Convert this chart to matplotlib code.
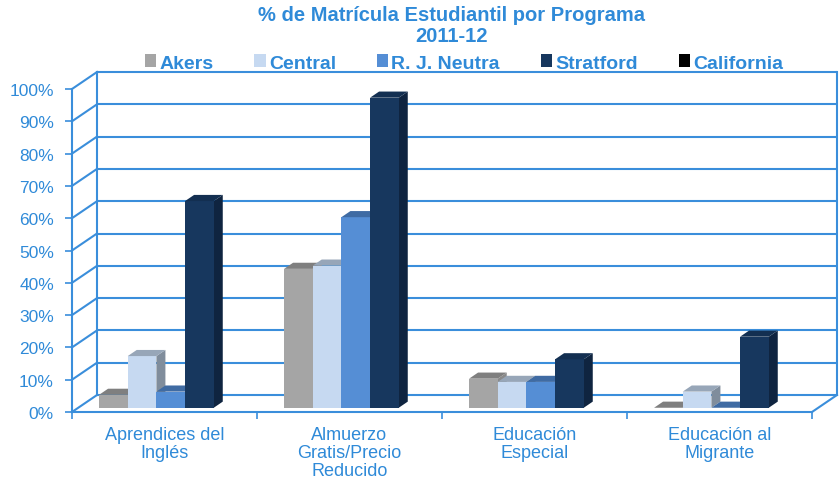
import matplotlib
matplotlib.use("Agg")
import matplotlib.pyplot as plt
from matplotlib.patches import Polygon, Patch

# ── Data ────────────────────────────────────────────────────────────────
categories = ["Aprendices del\nInglés", "Almuerzo\nGratis/Precio\nReducido",
              "Educación\nEspecial", "Educación al\nMigrante"]
series = ["Akers", "Central", "R. J. Neutra", "Stratford", "California"]
akers = [4, 43, 9, 0]
central = [16, 44, 8, 5]
neutra = [5, 59, 8, 0]
stratford = [64, 96, 15, 22]
california = [None, None, None, None]
values = [akers, central, neutra, stratford, california]

# ── Style ───────────────────────────────────────────────────────────────
C_LINE = "#3A8EDB"
C_TEXT = "#2F8AD8"
FRONT = ["#A5A5A5", "#C6D9F1", "#558ED5", "#17375E", "#000000"]
TOP = ["#7F7F7F", "#97A6B8", "#3F6BA3", "#132F51", "#000000"]
SIDE = ["#8A8A8A", "#808D9C", "#3C679E", "#0F2440", "#000000"]
FONT = ["Liberation Sans", "DejaVu Sans"]

W_PX, H_PX = 839, 481
fig = plt.figure(figsize=(W_PX / 100, H_PX / 100), dpi=100)
fig.patch.set_facecolor("white")
ax = fig.add_axes([72 / W_PX, (H_PX - 413) / H_PX, 740 / W_PX, 323 / H_PX])
ax.set_xlim(0, 4)
ax.set_ylim(0, 100)
ax.set_facecolor("none")

# depth of the pseudo-3D box in data units
DX = 25 / 185
DY = 17 / 3.23
ZF = 0.25      # depth of bar front
ZD = 0.36      # depth of bar
BW = 0.155     # bar width

# walls
grid = list(range(0, 101, 10))
for g in grid:
    ax.plot([DX, 4 + DX], [g + DY, g + DY], color=C_LINE, lw=1.5,
            clip_on=False, zorder=1, solid_capstyle="butt")
    ax.plot([0, DX], [g, g + DY], color=C_LINE, lw=1.5, clip_on=False, zorder=1)
ax.plot([DX, DX], [DY, 100 + DY], color=C_LINE, lw=1.5, clip_on=False, zorder=1)
ax.plot([4 + DX, 4 + DX], [DY, 100 + DY], color=C_LINE, lw=1.5, clip_on=False, zorder=1)
ax.plot([4, 4 + DX], [0, DY], color=C_LINE, lw=1.5, clip_on=False, zorder=1)

# bars
ox, oy = ZF * DX, ZF * DY
sx, sy = ZD * DX, ZD * DY
for j, vals in enumerate(values):
    for i, v in enumerate(vals):
        if v is None:
            continue
        x0 = i + 0.5 + (j - 2.5) * BW + ox
        z = 3 + j
        if v > 0:
            ax.bar(x0, v, width=BW, bottom=oy, align="edge", color=FRONT[j],
                   edgecolor="none", zorder=z)
        top = oy + v
        ax.add_patch(Polygon([(x0, top), (x0 + BW, top), (x0 + BW + sx, top + sy),
                              (x0 + sx, top + sy)], closed=True, facecolor=TOP[j],
                             edgecolor="none", zorder=z, clip_on=False))
        if v > 0:
            ax.add_patch(Polygon([(x0 + BW, oy), (x0 + BW + sx, oy + sy),
                                  (x0 + BW + sx, top + sy), (x0 + BW, top)],
                                 closed=True, facecolor=SIDE[j], edgecolor="none",
                                 zorder=z - 0.5, clip_on=False))

# axes
for s in ("top", "right"):
    ax.spines[s].set_visible(False)
for s in ("left", "bottom"):
    ax.spines[s].set_color(C_LINE)
    ax.spines[s].set_linewidth(1.5)
ax.set_yticks(grid, [f"{g}%" for g in grid])
ax.set_xticks([i + 0.5 for i in range(4)], categories)
ax.set_xticks(range(5), minor=True)
ax.tick_params(axis="y", length=5, width=1.2, color=C_LINE, labelcolor=C_TEXT,
               labelsize=12.5, pad=8)
ax.tick_params(axis="x", which="major", length=0, labelcolor=C_TEXT,
               labelsize=13, pad=10)
ax.tick_params(axis="x", which="minor", length=5, width=1.2, color=C_LINE)
for t in ax.get_xticklabels() + ax.get_yticklabels():
    t.set_family(FONT)
for t in ax.get_xticklabels():
    t.set_linespacing(1.1)

# title and legend
fig.text(451 / W_PX, 1 - 26 / H_PX, "% de Matrícula Estudiantil por Programa\n2011-12",
         ha="center", va="center", fontsize=14.5, fontweight="bold", color=C_TEXT,
         family=FONT, linespacing=1.15)
handles = [Patch(facecolor=c, edgecolor="none") for c in FRONT]
leg = fig.legend(handles, series, loc="center", bbox_to_anchor=(464 / W_PX, 1 - 64 / H_PX),
                 ncol=5, frameon=False, handlelength=0.6, handleheight=0.6,
                 handletextpad=0.15, columnspacing=2.1, borderaxespad=0,
                 prop={"family": FONT, "weight": "bold", "size": 14})
for t in leg.get_texts():
    t.set_color(C_TEXT)

fig.savefig("out.png", dpi=100, facecolor="white")
